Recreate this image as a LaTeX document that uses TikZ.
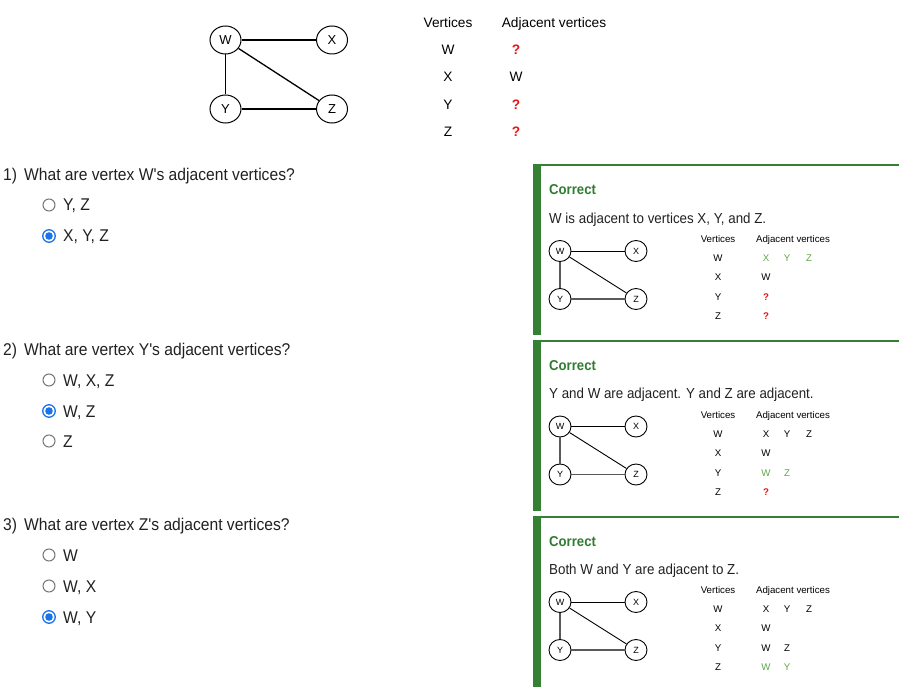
\documentclass[tikz,border=0pt]{standalone}
\usepackage{fontspec}
\setmainfont{Liberation Sans}
\newfontfamily\roboto[FakeStretch=0.92]{Liberation Sans}
\usetikzlibrary{shapes.geometric}
\definecolor{barg}{RGB}{52,128,52}
\definecolor{corrg}{RGB}{46,125,50}
\definecolor{lg}{RGB}{96,168,72}
\definecolor{qred}{RGB}{235,20,20}
\definecolor{rblue}{RGB}{26,115,232}
\definecolor{rgray}{RGB}{118,118,118}
\definecolor{txt}{RGB}{33,33,33}
\tikzset{
  qtext/.style={anchor=west, inner sep=0, text height=12pt, text depth=0pt, text=txt,
    font=\roboto\fontsize{17}{20}\selectfont},
  fbtext/.style={anchor=west, inner sep=0, text height=10.5pt, text depth=0pt, text=txt,
    font=\roboto\fontsize{14.5}{17}\selectfont},
  corrtext/.style={anchor=west, inner sep=0, text height=10pt, text depth=0pt, text=corrg,
    font=\roboto\bfseries\fontsize{14.3}{17}\selectfont},
  th/.style={inner sep=0, text height=9.8pt, text depth=0pt,
    font=\fontsize{13.7}{16}\selectfont},
  mth/.style={inner sep=0, text height=7pt, text depth=0pt,
    font=\fontsize{9.7}{12}\selectfont},
  qmark/.style={text=qred, font=\bfseries\fontsize{13.7}{16}\selectfont},
  mqmark/.style={text=qred, font=\bfseries\fontsize{9.7}{12}\selectfont},
  gnode/.style={ellipse, draw, line width=1pt, minimum width=31pt, minimum height=28pt,
    inner sep=0, font=\fontsize{13}{15}\selectfont},
  mnode/.style={ellipse, draw, line width=0.9pt, minimum width=22pt, minimum height=21pt,
    inner sep=0, font=\fontsize{9}{11}\selectfont},
  gedge/.style={line width=1.3pt},
  medge/.style={line width=0.9pt},
  medgegray/.style={line width=1.5pt, draw=black!65},
  radoff/.style={circle, draw=rgray, line width=1pt, minimum size=12pt, inner sep=0},
  radon/.style={circle, draw=rblue, line width=1.3pt, minimum size=12.5pt, inner sep=0,
    path picture={\fill[rblue] (path picture bounding box.center) circle (3.8pt);}},
}
\newcommand\minigraph[1]{%
  \node[mnode] (#1w) at (560,251) {W};
  \node[mnode] (#1x) at (636,251) {X};
  \node[mnode] (#1y) at (560,299) {Y};
  \node[mnode] (#1z) at (636,299) {Z};
  \draw[medge] (#1w) -- (#1x);
  \draw[medgegray] (#1w) -- (#1y);
  \draw[medgegray] (#1y) -- (#1z);
  \draw[medge] (#1w) -- (#1z);
  \node[mth] (#1hv) at (718,239) {Vertices};
  \node[mth] (#1ha) at (793,239) {Adjacent vertices};
  \node[mth] (#1vw) at (718,258) {W};
  \node[mth] (#1vx) at (718,277) {X};
  \node[mth] (#1vy) at (718,297) {Y};
  \node[mth] (#1vz) at (718,316) {Z};
  \node[mth] (#1xa) at (766,277) {W};
}
\newcommand\panel[1]{%
  \fill[barg] (533,164.5) rectangle (899,166.5);
  \fill[barg] (533,164.5) rectangle (541,#1);
}
\begin{document}
\begin{tikzpicture}[x=1pt,y=-1pt]
\useasboundingbox (0,0) rectangle (908,687);
\fill[white] (0,0) rectangle (908,687);

% ---- top graph
\node[gnode] (W) at (225.5,40) {W};
\node[gnode] (X) at (332,40) {X};
\node[gnode] (Y) at (225.5,109) {Y};
\node[gnode] (Z) at (332,109) {Z};
\draw[gedge] (W) -- (X);
\draw[gedge] (W) -- (Y);
\draw[gedge] (Y) -- (Z);
\draw[gedge] (W) -- (Z);

% ---- top table
\node[th] (hv) at (448,23) {Vertices};
\node[th] (ha) at (554,23) {Adjacent vertices};
\node[th] (tw) at (448,50) {W};
\node[th] (tx) at (448,77) {X};
\node[th] (ty) at (448,105) {Y};
\node[th] (tz) at (448,132) {Z};
\node[th,qmark] (aw) at (516,50) {?};
\node[th] (ax) at (516,77) {W};
\node[th,qmark] (ay) at (516,105) {?};
\node[th,qmark] (az) at (516,132) {?};

% ---- questions
\node[qtext] (q1) at (3,175) {1)\hspace{7pt}What are vertex W's adjacent vertices?};
\node[radoff] (r11) at (49,205) {};
\node[qtext] (o11) at (63,205) {Y, Z};
\node[radon] (r12) at (49,236) {};
\node[qtext] (o12) at (63,236) {X, Y, Z};

\node[qtext] (q2) at (3,349) {2)\hspace{7pt}What are vertex Y's adjacent vertices?};
\node[radoff] (r21) at (49,380) {};
\node[qtext] (o21) at (63,380) {W, X, Z};
\node[radon] (r22) at (49,411) {};
\node[qtext] (o22) at (63,411) {W, Z};
\node[radoff] (r23) at (49,441) {};
\node[qtext] (o23) at (63,441) {Z};

\node[qtext] (q3) at (3,524) {3)\hspace{7pt}What are vertex Z's adjacent vertices?};
\node[radoff] (r31) at (49,555) {};
\node[qtext] (o31) at (63,555) {W};
\node[radoff] (r32) at (49,586) {};
\node[qtext] (o32) at (63,586) {W, X};
\node[radon] (r33) at (49,617) {};
\node[qtext] (o33) at (63,617) {W, Y};

% ---- feedback panel 1
\begin{scope}
\panel{335}
\node[corrtext] (c1) at (549,190) {Correct};
\node[fbtext] (f1) at (549,218) {W is adjacent to vertices X, Y, and Z.};
\minigraph{a}
\node[mth,text=lg] (aw1) at (766,258) {X};
\node[mth,text=lg] (aw2) at (787,258) {Y};
\node[mth,text=lg] (aw3) at (809,258) {Z};
\node[mth,mqmark] (ay1) at (766,297) {?};
\node[mth,mqmark] (az1) at (766,316) {?};
\end{scope}

% ---- feedback panel 2
\begin{scope}[yshift=-175.5pt]
\panel{335}
\node[corrtext] (c2) at (549,190) {Correct};
\node[fbtext] (f2) at (549,218) {Y and W are adjacent. Y and Z are adjacent.};
\minigraph{b}
\node[mth] (bw1) at (766,258) {X};
\node[mth] (bw2) at (787,258) {Y};
\node[mth] (bw3) at (809,258) {Z};
\node[mth,text=lg] (by1) at (766,297) {W};
\node[mth,text=lg] (by2) at (787,297) {Z};
\node[mth,mqmark] (bz1) at (766,316) {?};
\end{scope}

% ---- feedback panel 3
\begin{scope}[yshift=-351pt]
\panel{340}
\node[corrtext] (c3) at (549,190) {Correct};
\node[fbtext] (f3) at (549,218) {Both W and Y are adjacent to Z.};
\minigraph{c}
\node[mth] (cw1) at (766,258) {X};
\node[mth] (cw2) at (787,258) {Y};
\node[mth] (cw3) at (809,258) {Z};
\node[mth] (cy1) at (766,297) {W};
\node[mth] (cy2) at (787,297) {Z};
\node[mth,text=lg] (cz1) at (766,316) {W};
\node[mth,text=lg] (cz2) at (787,316) {Y};
\end{scope}
\end{tikzpicture}
\end{document}
